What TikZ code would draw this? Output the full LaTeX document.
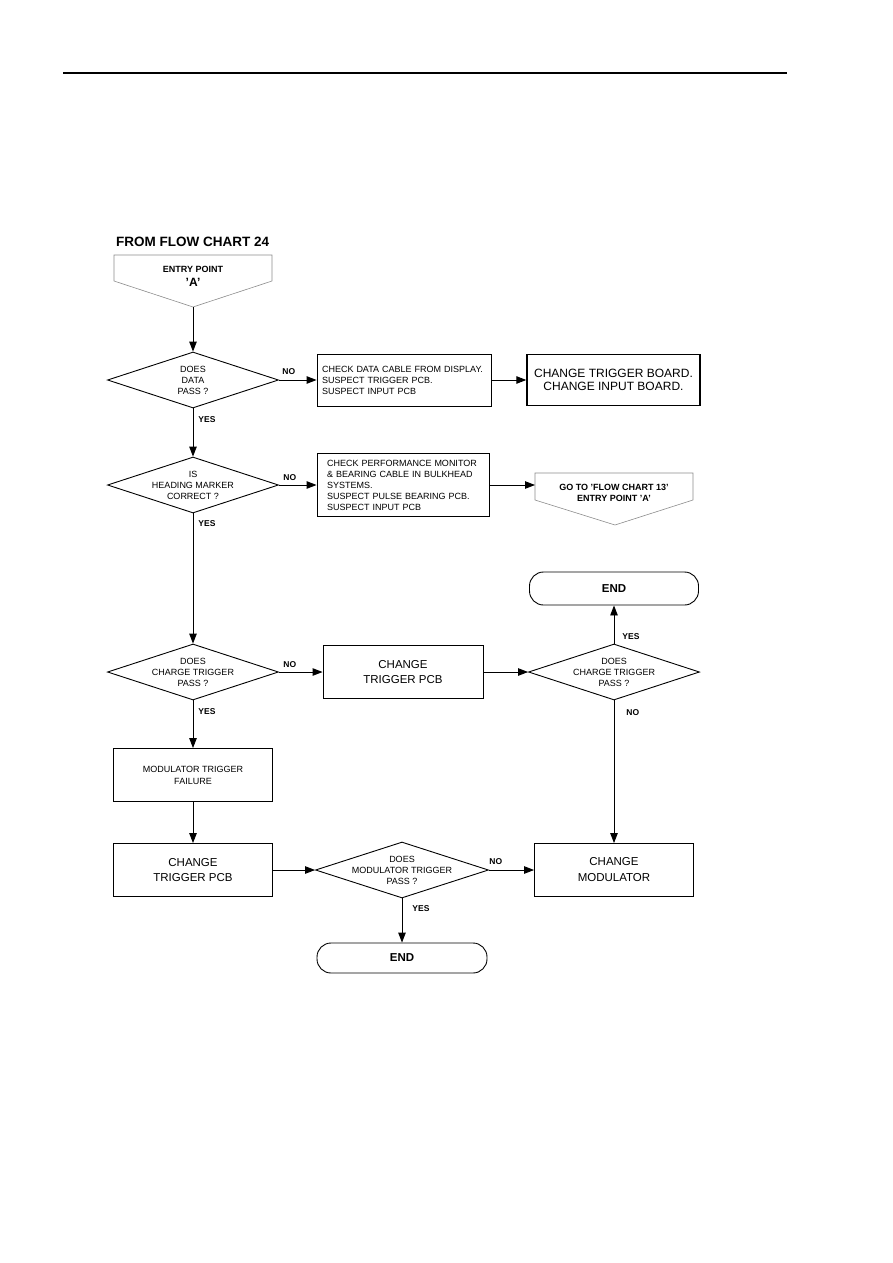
\documentclass[tikz,border=0pt]{standalone}
\usepackage{fontspec}
\setmainfont{Liberation Sans}
\usetikzlibrary{arrows.meta,positioning,shapes.geometric}

\newcommand{\smtxt}{\fontsize{9}{11}\selectfont}
\newcommand{\bigtxt}{\fontsize{11.5}{15}\selectfont}

\begin{document}
\begin{tikzpicture}[x=1pt,y=-1pt,
  box/.style={draw,line width=0.9pt,minimum width=159pt,minimum height=53pt,inner sep=0pt,align=center,font=\bigtxt},
  note/.style={draw,line width=0.9pt,inner ysep=0pt,align=left,font=\smtxt},
  dec/.style={diamond,draw,line width=0.9pt,minimum width=171pt,minimum height=56pt,inner xsep=-40pt,inner ysep=-12pt,align=center,font=\smtxt},
  term/.style={draw,line width=0.9pt,rounded corners=14pt,minimum width=170pt,minimum height=32pt,font=\fontsize{11.5}{13}\selectfont\bfseries},
  lbl/.style={inner sep=0pt,font=\fontsize{8.5}{10}\selectfont\bfseries},
  arr/.style={-{Triangle[length=10pt,width=7.5pt]},line width=0.9pt},
  off/.style={draw=black!45,line width=0.6pt}]
\useasboundingbox (0,0) rectangle (893,1263);
\draw[line width=1.3pt] (63,73)--(787,73);
% entry from chart 24
\node[anchor=west,inner sep=0pt,font=\fontsize{13.5}{15}\selectfont\bfseries] (title) at (116,242) {FROM FLOW CHART 24};
\draw[off] (114,255)--(272,255)--(272,281)--(193,307)--(114,281)--cycle;
\node[align=center,inner sep=0pt,font=\fontsize{9}{14}\selectfont\bfseries] (entry) at (193,276) {ENTRY POINT\\{\fontsize{12}{12}\selectfont 'A'}};
\coordinate (entrytip) at (193,307);
% first checks
\node[dec] (d1) at (193,380) {DOES\\DATA\\PASS ?};
\node[note,text width=164pt,inner xsep=5pt,minimum height=52pt] (b1) at (404,380) {CHECK DATA CABLE FROM DISPLAY.\\SUSPECT TRIGGER PCB.\\SUSPECT INPUT PCB};
\node[box,line width=1.4pt,minimum width=173pt,minimum height=51pt,font=\fontsize{12}{13}\selectfont] (c1) at (613.5,380) {CHANGE TRIGGER BOARD.\\CHANGE INPUT BOARD.};
\node[dec] (d2) at (193,485) {IS\\HEADING MARKER\\CORRECT ?};
\node[note,text width=152pt,inner xsep=10pt,minimum height=63pt] (b2) at (403,485) {CHECK PERFORMANCE MONITOR\\\& BEARING CABLE IN BULKHEAD\\SYSTEMS.\\SUSPECT PULSE BEARING PCB.\\SUSPECT INPUT PCB};
\draw[off] (535,473)--(693,473)--(693,500)--(615,525)--(535,500)--cycle;
\node[align=center,inner sep=0pt,font=\fontsize{9}{10.5}\selectfont\bfseries] (goto) at (614,493) {GO TO 'FLOW CHART 13'\\ENTRY POINT 'A'};
\coordinate (gotoin) at (535,485);
% trigger checks
\node[dec] (d3) at (193,672) {DOES\\CHARGE TRIGGER\\PASS ?};
\node[box,minimum width=160pt] (c2) at (403,672) {CHANGE\\TRIGGER PCB};
\node[dec] (d4) at (614,672) {DOES\\CHARGE TRIGGER\\PASS ?};
\node[term,minimum width=169pt,minimum height=33pt] (e1) at (614,588.5) {END};
\node[box,font=\fontsize{9}{12}\selectfont] (m1) at (193,775) {MODULATOR TRIGGER\\FAILURE};
\node[box] (c3) at (193,870) {CHANGE\\TRIGGER PCB};
\node[dec,minimum width=173pt] (d5) at (402,870) {DOES\\MODULATOR TRIGGER\\PASS ?};
\node[box,font=\fontsize{11.5}{16}\selectfont] (c4) at (614,870) {CHANGE\\MODULATOR};
\node[term,minimum height=30pt] (e2) at (402,958) {END};
% connectors
\draw[arr] (entrytip)--(d1);
\draw[arr] (d1)--(b1) node[lbl,pos=0,above right=5pt and 3pt] (no1) {NO};
\draw[arr] (b1)--(c1);
\draw[arr] (d1)--(d2) node[lbl,pos=0,below right=8pt and 5pt] (yes1) {YES};
\draw[arr] (d2)--(b2) node[lbl,pos=0,above right=4pt and 4pt] (no2) {NO};
\draw[arr] (b2)--(gotoin);
\draw[arr] (d2)--(d3) node[lbl,pos=0,below right=7pt and 5pt] (yes2) {YES};
\draw[arr] (d3)--(c2) node[lbl,pos=0,above right=4pt and 4pt] (no3) {NO};
\draw[arr] (c2)--(d4);
\draw[arr] (d4)--(e1) node[lbl,pos=0,above right=4pt and 8pt] (yes4) {YES};
\draw[arr] (d4)--(c4) node[lbl,pos=0,below right=9pt and 12pt] (no4) {NO};
\draw[arr] (d3)--(m1) node[lbl,pos=0,below right=8pt and 5pt] (yes3) {YES};
\draw[arr] (m1)--(c3);
\draw[arr] (c3)--(d5);
\draw[arr] (d5)--(c4) node[lbl,pos=0,above right=5pt and 0pt] (no5) {NO};
\draw[arr] (d5)--(e2) node[lbl,pos=0,below right=7pt and 10pt] (yes5) {YES};
\end{tikzpicture}
\end{document}
